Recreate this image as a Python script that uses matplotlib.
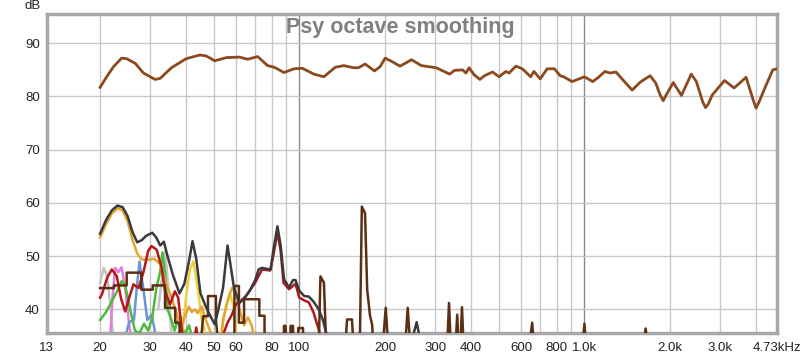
import numpy as np
import matplotlib
matplotlib.use("Agg")
import matplotlib.pyplot as plt

nan = float('nan')

# Main (top) response curve
main_f = [20, 21.1, 22.3, 23.8, 24.8, 26.6, 28.4, 31.2, 32.5, 35.6, 40.1, 44.8, 47.2, 50.5, 55.4,
          61.6, 65.9, 71.4, 77.4, 81.6, 88.4, 95.8, 102.4, 112.5, 121.9, 133.8, 143.1, 155.1,
          161.3, 170.2, 183.5, 192, 200, 210.7, 225.5, 247.5, 268, 302, 336.7, 350, 374, 384,
          394, 410, 430, 446, 476, 502, 530, 544, 575, 606, 648, 665, 700, 740, 785, 822, 846,
          905, 1000, 1070, 1120, 1180, 1230, 1290, 1350, 1470, 1570, 1700, 1780, 1840, 1890, 1950, 2050,
          2190, 2370, 2470, 2600, 2660, 2720, 2810, 3100, 3350, 3690, 3900, 4000, 4100, 4320, 4580, 4730]
main_db = [81.7, 83.7, 85.6, 87.2, 87.1, 86.2, 84.4, 83.2, 83.4, 85.4, 87.1, 87.8, 87.6, 86.7, 87.3,
           87.4, 87.0, 87.5, 85.8, 85.5, 84.5, 85.2, 85.3, 84.2, 83.7, 85.5, 85.8, 85.4,
           85.4, 86.1, 84.8, 85.6, 87.2, 86.6, 85.7, 86.9, 85.8, 85.4, 84.2, 84.9, 85.0, 84.4,
           85.4, 84.1, 83.2, 83.9, 84.6, 83.7, 84.7, 84.4, 85.7, 85.2, 83.7, 84.7, 83.3, 85.2, 85.2, 83.9, 83.7,
           82.8, 83.7, 82.8, 83.6, 84.7, 84.4, 84.6, 83.4, 81.2, 82.7, 83.9, 82.5, 80.4, 79.2, 80.6, 82.6,
           80.2, 84.2, 82.8, 79.0, 77.9, 78.6, 80.3, 83.0, 81.6, 83.6, 79.5, 77.8, 79.0, 81.9, 85.0, 85.2]

# Dark gray trace
gray_f = [20, 21, 22, 23, 24, 25, 26, 27, 28, 29, 30.5, 31.5, 32.5, 33.5, 34.5, 36, 38, 39.5, 41,
          42.2, 43.5, 45, 47, 49, 50.5, 52, 54, 56, 57.5, 59, 61.6, 64, 67, 70, 72, 74, 77, 79.4,
          81, 83.8, 86, 88.4, 90, 92, 95, 97, 100, 104, 108, 112, 117, 121, 125, 130,
          nan, 245, 258, 268]
gray_db = [54.2, 56.8, 58.6, 59.5, 59.2, 57.5, 54.5, 52.6, 53.0, 53.8, 54.4, 53.5, 52.0, 52.7, 50.0,
           46.5, 43.0, 44.8, 49.0, 52.8, 49.5, 43.0, 40.5, 38.5, 37.2, 40.0, 44.0, 52.0, 48.0, 44.0,
           41.2, 42.0, 43.5, 45.5, 47.5, 47.8, 47.6, 47.5, 51.0, 55.6, 52.0, 45.6, 45.0, 44.1,
           45.5, 45.5, 43.5, 42.5, 42.4, 41.5, 40.0, 38.0, 35.0, 33.0,
           nan, 33.0, 37.6, 33.0]

# Orange trace
orange_f = [20, 21, 22, 23, 24, 25, 26, 27, 28, 29.5, 31, 32.5, 34, 35.5, 37, 38.5, 39.5, 41, 42, 43,
            44, 45.5, 47, 49, 51, nan, 53, 54, 56, 58, 60, 62, 64, 66, 68, 70]
orange_db = [53.5, 56.0, 58.0, 59.0, 58.6, 56.5, 53.0, 50.5, 49.4, 49.3, 49.5, 48.5, 45.0, 42.5, 39.5,
             36.0, 38.5, 40.5, 39.5, 40.0, 39.3, 40.5, 38.0, 35.5, 34.0, nan, 34.0, 38.0, 41.5, 44.0,
             43.0, 39.5, 37.0, 38.5, 37.0, 34.0]

# Yellow trace
yellow_f = [38.5, 40, 41.3, 42.5, 44, 45.5, 47, nan, 53, 55, 57, 58.5, 60]
yellow_db = [34.0, 42.0, 47.5, 49.0, 44.0, 38.0, 35.0, nan, 35.0, 40.0, 43.0, 41.0, 36.0]

# Red trace
red_f = [20, 20.3, 21.2, 22, 22.9, 23.7, 24.5, 25.4, 26.2, 27.3, 28.4, 29.5, 30.3, 31.6, 32.9, 33.8,
         35.2, 36.6, 37.6, 38.6, 39.5, nan, 42.5, 43.5, 44.5, nan, 53, 56, 58, 60, 62, 65, 70, 74,
         79, 81, 83.8, 86, 88, 92, 97, 100, 104, 108, 112, 117, 120]
red_db = [42.2, 42.8, 46.0, 47.5, 46.2, 42.0, 39.6, 42.5, 44.7, 44.0, 47.0, 51.0, 51.9, 51.2, 47.8,
          43.4, 40.9, 43.4, 42.2, 36.6, 33.0, nan, 33.0, 36.6, 33.0, nan, 34.0, 37.5, 39.0, 41.0,
          41.5, 42.5, 45.0, 47.5, 47.3, 50.0, 54.5, 51.0, 45.0, 43.8, 44.8, 42.2, 41.7, 41.3, 39.5,
          36.2, 34.0]

# Dark brown trace (stepped)
brown_f = [20, 22.4, 22.4, 24.8, 24.8, 27.9, 27.9, 30.6, 30.6, 33.8, 33.8, 36.7, 36.7, 38, 38,
           nan, 45, 46, 47.8, 47.8, 51, 51, 52, nan, 57.5, 59.2, 59.2, 61.4, 61.4, 64, 64, 68.6,
           68.6, 72.4, 72.4, 75.5, 75.5, nan, 88, 88.4, 89.5, 90, nan, 93, 93.2, 95, 95.2, nan,
           99, 99.2, 103, 103.2, nan, 117, 118.6, 122, 123.3, 124.5,
           nan, 145, 147, 153, 155, nan, 163, 165.7, 170, 173, 177, 180, 182,
           nan, 196, 201, 205, nan, 235, 240, 245, nan, 330, 335, 340, nan, 353, 358, 362, nan,
           367, 372, 377, nan, 640, 656, 665, nan, 985, 1000, 1015, nan, 1610, 1640, 1670]
brown_db = [44.0, 44.0, 44.5, 44.5, 46.9, 46.9, 43.7, 43.7, 44.5, 44.5, 40.3, 40.3, 37.5, 37.5, 33.0,
            nan, 33.0, 38.7, 38.7, 42.5, 42.5, 38.0, 33.0, nan, 33.0, 33.0, 44.4, 44.4, 37.5, 37.5,
            41.9, 41.9, 41.9, 41.9, 38.8, 38.8, 33.0, nan, 33.0, 36.9, 36.9, 33.0, nan, 33.0, 36.9,
            36.9, 33.0, nan, 33.0, 36.5, 36.5, 33.0, nan, 33.0, 46.2, 45.0, 38.1, 33.0,
            nan, 33.0, 38.1, 38.1, 33.0, nan, 33.0, 59.3, 58.1, 43.7, 38.8, 37.2, 33.0,
            nan, 33.0, 40.3, 33.0, nan, 33.0, 40.3, 33.0, nan, 33.0, 41.2, 33.0, nan, 33.0, 39.0,
            33.0, nan, 33.0, 40.4, 33.0, nan, 33.0, 37.5, 33.0, nan, 33.0, 37.3, 33.0, nan, 33.0,
            36.4, 33.0]

# Green trace
green_f = [20, 21, 22, 23, 23.8, 24.5, 25.5, 26.5, 27.5, 28.5, 29.5, 30.5, 31.5, 32.5, 33.1, 33.8,
           34.5, 35.5, 36.5, 37.5, 38.5, 39.5, 41, 42]
green_db = [38.0, 39.5, 41.5, 43.5, 45.3, 44.5, 40.0, 36.0, 35.5, 37.3, 36.0, 38.5, 44.0, 47.0, 50.7,
            47.0, 40.0, 38.2, 36.0, 38.0, 38.5, 35.0, 37.0, 35.0]

# Blue trace
blue_f = [24.3, 25.3, 26.3, 26.9, 27.5, 28.4, 29.3, 30.3, 31, 31.7]
blue_db = [34.0, 37.6, 38.0, 44.0, 49.0, 43.7, 38.0, 39.0, 36.5, 33.0]

# Pink trace
pink_f = [21.7, 22.1, 22.6, 23.2, 23.8, 24.5, 25.2, 25.8]
pink_db = [34.0, 42.0, 47.8, 47.0, 47.9, 44.0, 38.0, 34.0]

# Light gray trace
lgray_f = [20, 20.6, 21.2, 21.8, 22.3, nan, 32, 33, 33.8, 34.5, 35.5]
lgray_db = [45.0, 47.8, 46.0, 40.0, 34.0, nan, 40.0, 46.0, 50.9, 46.0, 36.0]

xtick_vals = [13, 20, 30, 40, 50, 60, 80, 100, 200, 300, 400, 600, 800, 1000, 2000, 3000, 4730]
xtick_labels = ['13', '20', '30', '40', '50', '60', '80', '100', '200', '300', '400', '600', '800',
                '1.0k', '2.0k', '3.0k', '4.73kHz']
ytick_vals = [40, 50, 60, 70, 80, 90]

plt.rcParams['font.family'] = ['Liberation Sans', 'DejaVu Sans']

fig = plt.figure(figsize=(8.0, 3.55), dpi=100)
ax = fig.add_axes([0.0584, 0.0611, 0.9126, 0.8995])
ax.set_xscale('log')
ax.set_xlim(13.4, 4730)
ax.set_ylim(35.5, 95.5)

# grid
minor_grid = [20, 30, 40, 50, 60, 70, 80, 90, 200, 300, 400, 500, 600, 700, 800, 900, 2000, 3000, 4000]
for g in minor_grid:
    ax.axvline(g, color='#c8c8c8', lw=1, zorder=0)
for g in [100, 1000]:
    ax.axvline(g, color='#8a8a8a', lw=1, zorder=0)
for g in ytick_vals:
    ax.axhline(g, color='#c8c8c8', lw=1, zorder=0)

lw = 1.8
ax.plot(lgray_f, lgray_db, color='#c4c4c4', lw=lw, zorder=2)
ax.plot(pink_f, pink_db, color='#e07fdc', lw=lw, zorder=2)
ax.plot(blue_f, blue_db, color='#6a93d8', lw=lw, zorder=2)
ax.plot(green_f, green_db, color='#4cbb3c', lw=lw, zorder=3)
ax.plot(yellow_f, yellow_db, color='#eed23a', lw=lw, zorder=3)
ax.plot(orange_f, orange_db, color='#e3a531', lw=lw, zorder=3)
ax.plot(red_f, red_db, color='#b41818', lw=lw, zorder=4)
ax.plot(brown_f, brown_db, color='#5c2e12', lw=lw, zorder=4)
ax.plot(gray_f, gray_db, color='#3a3a3a', lw=lw, zorder=5)
ax.plot(main_f, main_db, color='#8a4a1e', lw=2.0, zorder=6)

ax.set_xticks(xtick_vals)
ax.set_xticklabels(xtick_labels)
ax.xaxis.set_minor_locator(matplotlib.ticker.NullLocator())
ax.set_yticks(ytick_vals)
ax.tick_params(axis='both', length=0, labelsize=9.5, colors='#222222')
ax.tick_params(axis='x', pad=6)
ax.tick_params(axis='y', pad=5)

for s in ax.spines.values():
    s.set_color('#a8a8a8')
    s.set_linewidth(2.5)

ax.text(0.484, 0.99, 'Psy octave smoothing', transform=ax.transAxes, ha='center', va='top',
        fontsize=15.5, fontweight='bold', color='#808080', zorder=7)
fig.text(0.041, 0.982, 'dB', ha='center', va='center', fontsize=9.5, color='#222222')

fig.savefig('out.png', dpi=100)
